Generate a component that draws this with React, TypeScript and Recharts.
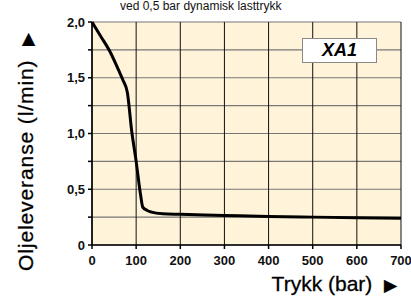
import { LineChart, Line, XAxis, YAxis, CartesianGrid } from 'recharts'

const trykk = [0, 20, 40, 60, 70, 80, 90, 100, 110, 115, 125, 135, 160, 200, 300, 400, 500, 600, 700]
const levering = [2.0, 1.87, 1.74, 1.57, 1.48, 1.37, 1.02, 0.75, 0.45, 0.34, 0.31, 0.295, 0.28, 0.275, 0.265, 0.255, 0.25, 0.245, 0.24]

const xTicks = [0, 100, 200, 300, 400, 500, 600, 700]
const yTicks = [0, 0.25, 0.5, 0.75, 1, 1.25, 1.5, 1.75, 2]

const data = trykk.map((t, i) => ({ trykk: t, levering: levering[i] }))

const FONT = '"Liberation Sans", Arial, Helvetica, sans-serif'

const yFmt = (v: number) => {
  if (v % 0.5 !== 0) return ''
  if (v === 0) return '0'
  return v.toFixed(1).replace('.', ',')
}

export default function App() {
  return (
    <div style={{ position: 'absolute', left: 0, top: 0, width: 411, height: 298, overflow: 'hidden', background: '#fff', fontFamily: FONT }}>
      <div style={{ position: 'absolute', left: 120, top: 0, fontSize: 12, lineHeight: '13px', color: '#111', whiteSpace: 'nowrap' }}>
        ved 0,5 bar dynamisk lasttrykk
      </div>

      <LineChart width={411} height={298} data={data} margin={{ top: 22, right: 10, left: 0, bottom: 0 }}>
        <CartesianGrid fill="#FFF4D9" stroke="#777" strokeWidth={1.2} vertical={false} />
        <CartesianGrid stroke="#111" strokeWidth={1} horizontal={false} />
        <XAxis dataKey="trykk" type="number" domain={[0, 700]} ticks={xTicks} height={53}
          stroke="#000" strokeWidth={1.5} tickSize={4} tickMargin={7}
          tick={{ fill: '#111', fontSize: 13, fontWeight: 700, fontFamily: FONT }} />
        <YAxis type="number" domain={[0, 2]} ticks={yTicks} width={92} tickFormatter={yFmt}
          stroke="#000" strokeWidth={1.5} tickSize={4} tickMargin={3} interval={0}
          tick={{ fill: '#111', fontSize: 13, fontWeight: 700, fontFamily: FONT }} />
        <Line dataKey="levering" type="monotone" stroke="#000" strokeWidth={3} dot={false} isAnimationActive={false} />
      </LineChart>

      <div style={{ position: 'absolute', left: 302, top: 38, width: 75, height: 25, background: '#fff', border: '1px solid #888', boxSizing: 'border-box', display: 'flex', alignItems: 'center', justifyContent: 'center', fontSize: 18, fontWeight: 700, fontStyle: 'italic', color: '#000' }}>
        XA1
      </div>

      <div style={{ position: 'absolute', left: 27, top: 152, transform: 'translate(-50%, -50%) rotate(-90deg)', whiteSpace: 'nowrap', fontSize: 21, lineHeight: '22px', letterSpacing: 0.9, color: '#000', WebkitTextStroke: '0.3px #000' }}>
        Oljeleveranse (l/min)&nbsp;&nbsp;<span style={{ fontSize: 17, letterSpacing: 0 }}>▶</span>
      </div>

      <div style={{ position: 'absolute', right: 14, top: 273, whiteSpace: 'nowrap', fontSize: 21, lineHeight: '22px', color: '#000', WebkitTextStroke: '0.3px #000' }}>
        Trykk (bar)&nbsp;&nbsp;<span style={{ fontSize: 17 }}>▶</span>
      </div>
    </div>
  )
}
